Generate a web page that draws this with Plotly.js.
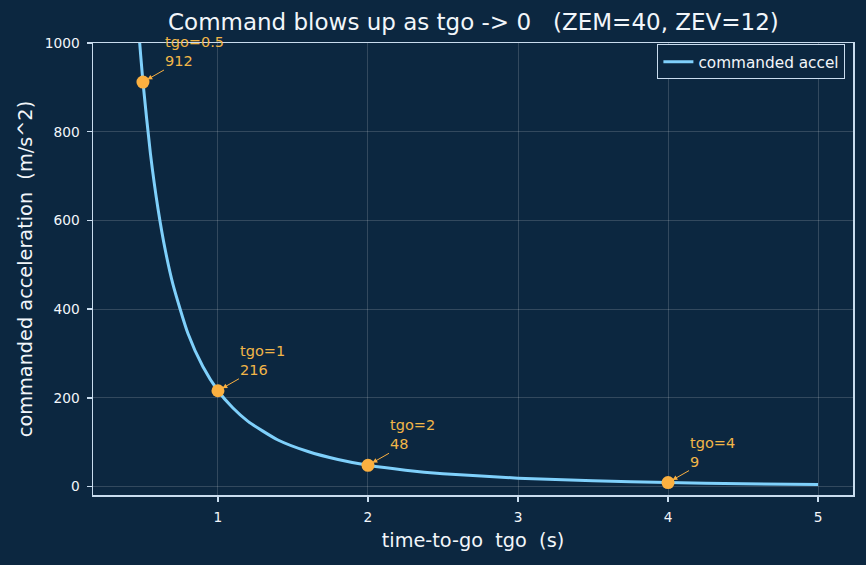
<!DOCTYPE html>
<html>
<head>
<meta charset="utf-8">
<script src="https://cdn.plot.ly/plotly-3.0.1.min.js"></script>
<style>
  html, body { margin: 0; padding: 0; background: #0c2740; }
  #chart { width: 866px; height: 565px; }
</style>
</head>
<body>
<div id="chart"></div>
<script>
// Commanded acceleration versus time-to-go
const tgo = [0.40, 0.42, 0.45, 0.47, 0.50, 0.55, 0.60, 0.65, 0.70, 0.80, 0.90, 1.00,
             1.10, 1.20, 1.40, 1.60, 1.80, 2.00, 2.25, 2.50, 3.00, 3.50, 4.00, 4.50, 5.00];
const accel = [1440, 1303, 1132, 1035, 912, 750, 627, 531, 456, 345, 270, 216,
               177, 147, 105, 79, 61, 48, 37, 29, 19, 13, 9, 6.5, 4.8];

// Highlighted sample points
const markTgo = [0.5, 1, 2, 4];
const markAccel = [912, 216, 48, 9];
const markLabels = ['tgo=0.5', 'tgo=1', 'tgo=2', 'tgo=4'];

const BG = '#0c2740';
const FG = '#f2f6fa';
const SPINE = '#c9dcee';
const LINE = '#7fd0fb';
const ORANGE = '#fbb040';
const ORANGE_TXT = '#f2b648';
const FONT = 'DejaVu Sans, sans-serif';

const traces = [
  {
    x: tgo, y: accel, type: 'scatter', mode: 'lines',
    name: 'commanded accel',
    line: { color: LINE, width: 3, shape: 'spline', smoothing: 0.6 },
    hoverinfo: 'skip'
  },
  {
    x: markTgo, y: markAccel, type: 'scatter', mode: 'markers',
    showlegend: false,
    marker: { color: ORANGE, size: 13, line: { width: 0 } },
    hoverinfo: 'skip'
  }
];

const annotations = markTgo.map((t, i) => ({
  x: t, y: markAccel[i], xref: 'x', yref: 'y',
  text: markLabels[i] + '<br>' + markAccel[i],
  showarrow: true, ax: 21, ay: -12,
  xanchor: 'left', yanchor: 'bottom', align: 'left',
  borderpad: 0,
  arrowcolor: ORANGE, arrowwidth: 1, arrowhead: 2, arrowsize: 1,
  standoff: 5, startstandoff: 0,
  font: { family: FONT, size: 14.5, color: ORANGE_TXT }
}));

annotations.push({
  xref: 'paper', yref: 'paper', x: 0.5, y: 1, yshift: 6,
  xanchor: 'center', yanchor: 'bottom', showarrow: false,
  text: 'Command blows up as tgo -&gt; 0\u00a0\u00a0\u00a0(ZEM=40, ZEV=12)',
  font: { family: FONT, size: 23, color: FG }
});

const layout = {
  width: 866, height: 565,
  paper_bgcolor: BG, plot_bgcolor: BG,
  margin: { l: 93, r: 13, t: 43, b: 70, pad: 0 },
  font: { family: FONT, color: FG, size: 13.75 },
  showlegend: true,
  legend: {
    x: 0.99, y: 0.997, xanchor: 'right', yanchor: 'top',
    bgcolor: BG, bordercolor: SPINE, borderwidth: 1,
    font: { family: FONT, size: 15.3, color: FG },
    itemwidth: 30
  },
  xaxis: {
    range: [0.167, 5.233],
    tickvals: [1, 2, 3, 4, 5],
    showgrid: true, gridcolor: 'rgba(255,255,255,0.16)', gridwidth: 1,
    zeroline: false,
    showline: true, linecolor: SPINE, linewidth: 1.5, mirror: true,
    ticks: 'outside', ticklen: 5, tickwidth: 1.5, tickcolor: SPINE,
    ticklabelstandoff: 4,
    tickfont: { family: FONT, size: 13.75, color: FG },
    title: { text: 'time-to-go\u00a0\u00a0tgo\u00a0\u00a0(s)', font: { family: FONT, size: 19.3, color: FG }, standoff: 9 }
  },
  yaxis: {
    range: [-19, 1000],
    tickvals: [0, 200, 400, 600, 800, 1000],
    showgrid: true, gridcolor: 'rgba(255,255,255,0.16)', gridwidth: 1,
    zeroline: false,
    showline: true, linecolor: SPINE, linewidth: 1.5, mirror: true,
    ticks: 'outside', ticklen: 5, tickwidth: 1.5, tickcolor: SPINE,
    ticklabelstandoff: 4,
    tickfont: { family: FONT, size: 13.75, color: FG },
    title: { text: 'commanded acceleration\u00a0\u00a0(m/s^2)', font: { family: FONT, size: 19.3, color: FG }, standoff: 7 }
  },
  annotations: annotations
};

Plotly.newPlot('chart', traces, layout, { displayModeBar: false, staticPlot: true });
</script>
</body>
</html>
